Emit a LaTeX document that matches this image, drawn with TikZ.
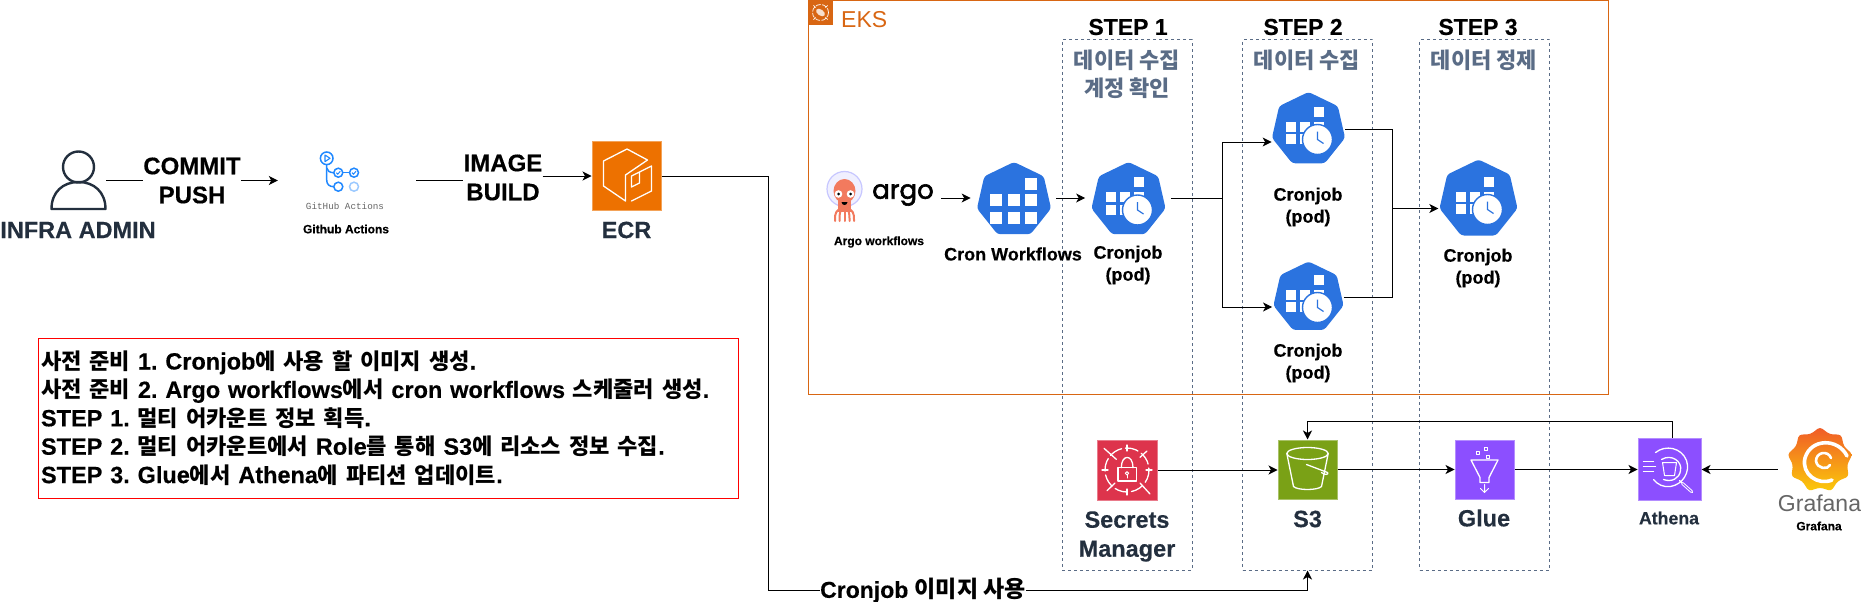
\documentclass[tikz,border=0pt]{standalone}
\usepackage{fontspec}
\usepackage{tikz}
\usetikzlibrary{arrows.meta, backgrounds, calc}
\usetikzlibrary{shapes.geometric, shapes.misc}

\setmainfont{Liberation Sans}[BoldFeatures={FakeBold=0.35}]
\newfontfamily\krfont{Noto Sans CJK KR}
\newfontfamily\krnotefont[Scale=0.94]{Noto Sans CJK KR}
\newfontfamily\argofont[FakeBold=2.2]{Poppins}
\newfontfamily\ghfont{Liberation Mono}
\newcommand{\kr}[1]{{\krfont #1}}
\newcommand{\krn}[1]{{\krnotefont #1}}
\newcommand{\fsize}[2]{\fontsize{#1}{#2}\selectfont}

\definecolor{awsink}{HTML}{232F3E}
\definecolor{eksorange}{HTML}{D86613}
\definecolor{ecrorange}{HTML}{ED7100}
\definecolor{stepblue}{HTML}{5A6C86}
\definecolor{kubeblue}{HTML}{2B73DF}
\definecolor{s3green}{HTML}{7AA116}
\definecolor{gluepurple}{HTML}{8C4FFF}
\definecolor{secretred}{HTML}{DD344C}
\definecolor{ghblue}{HTML}{2088FF}
\definecolor{argored}{HTML}{F27A5E}
\definecolor{gftop}{HTML}{F05A28}
\definecolor{gfbottom}{HTML}{FBCA0A}

\newcommand{\gridsquares}{
  \foreach \gx/\gy in {17.3/-16.3, -17.7/0.3, 0/0.3, 17.3/0.3, -17.7/17.7, 0/17.7, 17.3/17.7}
    \fill[white] (\gx-6,\gy-6) rectangle ++(12,12);
}
\newcommand{\clocksquares}{
  \foreach \gx/\gy in {10/-18, -17.7/-2.7, -3.3/-2.7, 10/-2.7, -17.7/9.7, -3.3/9.7}
    \fill[white] (\gx-5,\gy-5) rectangle ++(10,10);
  \draw[kubeblue, line width=1.4pt, fill=white] (9,10) circle (15);
  \draw[kubeblue, line width=1.2pt] (9,2) -- (9,10) -- (15,14);
}

\tikzset{
  wire/.style={line width=1pt, draw=black},
  flow/.style={wire, -{Stealth[length=9pt, width=9pt, inset=2.5pt]}},
  bigkey/.style={font=\bfseries\fsize{24}{29}, align=center, inner sep=0pt},
  awskey/.style={font=\bfseries\fsize{23.5}{29}, align=center, inner sep=0pt, text=awsink},
  podkey/.style={font=\bfseries\fsize{18}{22}, align=center, inner sep=0pt},
  tinykey/.style={font=\bfseries\fsize{12}{14}, align=center, inner sep=0pt},
  steptitle/.style={font=\bfseries\fsize{23}{27}, inner sep=0pt},
  stepnote/.style={font=\bfseries\fsize{22}{28}, align=center, inner sep=0pt, text=stepblue},
  stepbox/.style={draw=stepblue, line width=1pt, dash pattern=on 3pt off 3pt, minimum width=130pt, minimum height=530pt, inner sep=0pt},
  tile/.style={fill=#1, draw=#1!65!white, line width=1pt, inner sep=0pt},
  glyph/.style={draw=white, line width=1.3pt, line join=round, line cap=round},
  hole/.style={minimum width=#1, inner sep=0pt},
  hept/.style={regular polygon, regular polygon sides=7, inner sep=0pt, minimum size=#1pt, fill=kubeblue, rounded corners=3pt},
  gridhept/.style={hept=#1, path picture={\begin{scope}[shift={(path picture bounding box.center)}, scale=#1/76, sharp corners]\gridsquares\end{scope}}},
  cronhept/.style={hept=#1, path picture={\begin{scope}[shift={(path picture bounding box.center)}, scale=#1/76, sharp corners]\clocksquares\end{scope}}}
}

\begin{document}
\begin{tikzpicture}[x=1pt, y=-1pt]
\useasboundingbox (0,0) rectangle (1861,602);
%%%%%%%%%%%%%%%%%%%
% Groups

\node (eks) [draw=eksorange, line width=1pt, minimum width=800pt, minimum height=394pt, inner sep=0pt] at (1208.5,197.5) {};
\node (ekstag) [fill=eksorange, minimum size=25pt, inner sep=0pt] at (820.5,12.5) {};
\begin{scope}[shift={(ekstag.center)}]
\draw [white, line width=0.7pt, dash pattern=on 5pt off 1.5pt] (0,0) circle (8);
\fill [white, opacity=0.8, rotate=-35] (0,0) ellipse (5 and 3);
\foreach \ta in {45,135,225,315}
  \draw [white, line width=0.7pt, rotate=\ta] (7,0) -- (10,0);
\end{scope}
\node (ekstxt) [anchor=west, inner sep=0pt, text=eksorange, font=\fsize{23}{28}] at (841,20) {EKS};

\node (stepone) [stepbox] at (1127,305) {};
\node (steptwo) [stepbox] at (1307.5,305) {};
\node (stepthree) [stepbox] at (1484.75,305) {};

\node (stepa) [steptitle] at (1128,27) {STEP 1};
\node (stepb) [steptitle] at (1303,27) {STEP 2};
\node (stepc) [steptitle] at (1478,27) {STEP 3};
\node (notea) [stepnote] at (1127,74) {\kr{데이터 수집}\\\kr{계정 확인}};
\node (noteb) [stepnote] at (1307,60) {\kr{데이터 수집}};
\node (notec) [stepnote] at (1484,60) {\kr{데이터 정제}};

%%%%%%%%%%%%%%%%%%%
% Left side, build

\node (admin) [hole=55pt, minimum height=60pt] at (78.5,180.5) {};
\draw [awsink, line width=2.4pt] (78.5,167) circle (15.5);
\draw [awsink, line width=2.4pt, line join=round] (51.5,209) .. controls (51.5,192) and (63,182) .. (78.5,182) .. controls (94,182) and (105.5,192) .. (105.5,209) -- cycle;
\node (adminkey) [awskey] at (78,230) {INFRA ADMIN};

\node (commit) [bigkey] at (192,180.5) {COMMIT\\PUSH};

\node (ghact) [hole=138pt, minimum height=60pt] at (347,180.5) {};
\begin{scope}[ghblue, line width=1.5pt]
\draw (326.7,158.3) circle (6.3);
\draw [line width=1.1pt, line join=round] (325,155) -- (330,158.3) -- (325,161.6) -- cycle;
\draw (326.7,164.6) -- (326.7,180) .. controls (326.7,184) and (329,186.7) .. (333.8,186.7);
\draw (326.7,168) .. controls (327,171) and (330,172.7) .. (333.8,172.7);
\draw (338.3,172.7) circle (4.5);
\draw (354,172.7) circle (4.5);
\draw (338.3,186.7) circle (4.5);
\draw [ghblue!45!white] (354,186.7) circle (4.5);
\draw (342.8,172.7) -- (349.5,172.7);
\draw [line width=1pt] (336.3,172.7) -- (337.8,174.2) -- (340.3,171.2);
\draw [line width=1pt] (352,172.7) -- (353.5,174.2) -- (356,171.2);
\end{scope}
\node (ghlogo) [inner sep=0pt, text=black!60, font=\ghfont\fsize{9.3}{11}] at (345,206) {GitHub Actions};
\node (ghkey) [tinykey] at (346,229) {Github Actions};

\node (build) [bigkey] at (503,177.5) {IMAGE\\BUILD};

\node (ecr) [tile=ecrorange, minimum size=69pt] at (626.5,176) {};
\begin{scope}[shift={(ecr.center)}]
\draw [glyph] (0.5,-27) -- (21,-16) -- (-1,-1) -- (-1,25) -- (-23,10) -- (-23,-15) -- cycle;
\draw [glyph] (5,25) -- (25,15) -- (25,-10) -- (5,0) -- (5,11) -- (13,7) -- (13,-4);
\end{scope}
\node (ecrkey) [awskey] at (626.5,230) {ECR};

%%%%%%%%%%%%%%%%%%%
% The note

\node (note) [draw=red, line width=1pt, minimum width=700pt, minimum height=160pt, text width=695pt, inner sep=0pt, align=left, font=\bfseries\fsize{23.5}{28.4}] at (388.5,418) {\frenchspacing
\krn{사전 준비} 1. Cronjob\krn{에 사용 할 이미지 생성}.\\
\krn{사전 준비} 2. Argo workflows\krn{에서} cron workflows \krn{스케줄러 생성}.\\
STEP 1. \krn{멀티 어카운트 정보 획득}.\\
STEP 2. \krn{멀티 어카운트에서} Role\krn{를 통해} S3\krn{에 리소스 정보 수집}.\\
STEP 3. Glue\krn{에서} Athena\krn{에 파티션 업데이트}.};

%%%%%%%%%%%%%%%%%%%
% Argo and the pods

\node (argo) [hole=118pt, minimum height=50pt] at (882,198) {};
\fill [blue!6!white] (844.5,189) circle (17.5);
\draw [blue!22!white, line width=1.2pt] (844.5,189) circle (17.5);
\fill [argored] (844.5,191) ellipse (11 and 12);
\fill [argored] (838,198) rectangle (851,212);
\foreach \tx in {835,839.5,844.5,849.5,854}
  \draw [argored, line width=2pt, line cap=round] (844.5,205) .. controls (\tx,212) .. (\tx,221);
\fill [white] (838.5,194) circle (3.8);
\fill [white] (850.5,194) circle (3.8);
\fill [black] (838.5,194) circle (1.5);
\fill [black] (850.5,194) circle (1.5);
\fill [black] (841.5,202) -- (847.5,202) .. controls (847,206) and (842,206) .. (841.5,202);
\node (argotxt) [inner sep=0pt, font=\argofont\fsize{26}{30}] at (903,195) {argo};
\node (argokey) [tinykey] at (879,242) {Argo workflows};

\node (cwf) [gridhept=76] at (1014,200) {};
\node (cwfkey) [podkey] at (1013,254) {Cron Workflows};

\node (cja) [cronhept=76] at (1128.5,200) {};
\node (cjakey) [podkey] at (1128,265) {Cronjob\\(pod)};

\node (cjb) [cronhept=75] at (1308.5,129.5) {};
\node (cjbkey) [podkey] at (1308,207) {Cronjob\\(pod)};

\node (cjc) [cronhept=72] at (1308.5,297.5) {};
\node (cjckey) [podkey] at (1308,363) {Cronjob\\(pod)};

\node (cjd) [cronhept=80] at (1478.5,199.5) {};
\node (cjdkey) [podkey] at (1478,268) {Cronjob\\(pod)};

%%%%%%%%%%%%%%%%%%%
% Services

\node (sm) [tile=secretred, minimum size=60pt] at (1127,470) {};
\begin{scope}[shift={(sm.center)}]
\draw [glyph, dash pattern=on 13pt off 4pt] (0,0) circle (22);
\draw [glyph] (-23,-21.7) -- (-10.7,-10.7);
\draw [glyph] (20,-19) -- (13,-12.7);
\draw [glyph] (-20,20.7) -- (-12,13);
\draw [glyph] (23,24) -- (13,13);
\foreach \ta in {0,90,180,270}
  \draw [glyph, rotate=\ta] (19,0) -- (25,0);
\draw [glyph] (-9,-2.3) rectangle (9.3,11);
\draw [glyph] (-5.7,-2.3) .. controls (-5.7,-16) and (6,-16) .. (6,-2.3);
\draw [glyph, line width=1pt] (0,3.3) circle (1.7);
\draw [glyph, line width=1pt] (0,5) -- (0,8);
\end{scope}
\node (smkey) [awskey] at (1127,536.5) {Secrets\\Manager};

\node (sss) [tile=s3green, minimum size=59pt] at (1307.5,469.5) {};
\begin{scope}[shift={(sss.center)}]
\draw [glyph] (0,-16) ellipse (20.7 and 6);
\draw [glyph] (-20.7,-16) -- (-14,17) .. controls (-10,21) and (10,21) .. (14,17) -- (20.7,-16);
\draw [glyph] (-1,-5) -- (20,3) .. controls (22,5) and (17,6) .. (14,3);
\end{scope}
\node (ssskey) [awskey] at (1307.5,519) {S3};

\node (glue) [tile=gluepurple, minimum size=59pt] at (1484.5,469.5) {};
\begin{scope}[shift={(glue.center)}]
\draw [glyph] (-13.5,-9.5) -- (13.5,-9.5) -- (4.5,8) -- (4.5,13) -- (-4.5,13) -- (-4.5,8) -- cycle;
\draw [glyph, line width=1pt] (-8,-18.5) rectangle (-5,-15.5);
\draw [glyph, line width=1pt] (2,-14) rectangle (5,-11);
\draw [glyph, line width=1pt] (0,-22.5) rectangle (3,-19.5);
\draw [glyph, line width=1pt] (0,15) -- (0,23) (-4,19) -- (0,23) -- (4,19);
\end{scope}
\node (gluekey) [awskey] at (1484,518) {Glue};

\node (athena) [tile=gluepurple, minimum width=63pt, minimum height=62pt] at (1669.5,469.5) {};
\begin{scope}[shift={(athena.center)}]
\draw [glyph] (-14,-17) .. controls (-4,-25) and (12,-22) .. (17,-9) .. controls (21,3) and (13,15) .. (1,17) .. controls (-6,18) and (-12,15) .. (-16,10);
\draw [glyph] (-8,-10) .. controls (2,-16) and (13,-8) .. (11,1) .. controls (10,9) and (2,13) .. (-6,10);
\draw [glyph, line width=1pt] (-7,-7) -- (-5,6) -- (5,6) -- (7,-7) -- cycle;
\draw [glyph] (-26,-8) -- (-16,-8) (-26,-3) -- (-14,-3) (-26,2) -- (-16,2);
\draw [glyph] (10,11) -- (23,23);
\draw [glyph, line width=3pt] (13,14) -- (22,22);
\draw [gluepurple, line width=1pt] (13,14) -- (22,22);
\end{scope}
\node (athenakey) [font=\bfseries\fsize{17.7}{22}, text=awsink, inner sep=0pt] at (1669,518) {Athena};

\node (gflogo) [star, star points=9, star point ratio=1.2, inner sep=0pt, minimum size=66pt, rounded corners=3pt, top color=gftop, bottom color=gfbottom] at (1820,460) {};
\begin{scope}[shift={(gflogo.center)}]
\draw [white, line width=3.6pt, line cap=round] (27,-4) .. controls (18,-22) and (-9,-22) .. (-15,-2) .. controls (-19,14) and (-2,26) .. (12,20);
\draw [white, line width=2.6pt, line cap=round] (11,-2) .. controls (8,-10) and (-4,-8) .. (-4,1) .. controls (-3,9) and (8,10) .. (10,5);
\end{scope}
\node (gftxt) [inner sep=0pt, text=black!60, font=\fsize{23}{28}] at (1819.5,503) {Grafana};
\node (gfkey) [tinykey] at (1819,526) {Grafana};

%%%%%%%%%%%%%%%%%%%
% Connectors

\draw [wire] (admin.east) -- (commit.west);
\draw [flow] (commit.east) -- (ghact.west);
\draw [wire] (ghact.east) -- (build.west |- ghact.east);
\draw [flow] (build.east |- ecr.west) -- (ecr.west);

\coordinate (turn) at (768.5,176);
\draw [flow, shorten >=8pt] (argo.east) -- (cwf.west |- argo.east);
\draw [flow, shorten <=7pt, shorten >=8pt] (cwf.east |- argo.east) -- (cja.west |- argo.east);

\coordinate (fork) at (1222,198);
\draw [wire, shorten <=7pt] (cja.east |- fork) -- (fork);
\draw [flow, shorten >=2pt] (fork) |- ($(cjb.west)+(0,12.5)$);
\draw [flow, shorten >=3pt] (fork) |- ($(cjc.west)+(0,9.5)$);

\coordinate (merge) at (1392.5,208.5);
\draw [wire, shorten <=2pt] (cjb.east) -| (merge);
\draw [wire, shorten <=2pt] (cjc.east) -| (merge);
\draw [flow, shorten >=3pt] (merge) -- (merge -| cjd.west);

\draw [flow] (sm.east) -- (sss.west |- sm.east);
\draw [flow] (sss.east) -- (glue.west);
\draw [flow] (glue.east) -- (athena.west);
\draw [flow] (gftxt.west |- athena.east) -- (athena.east);
\coordinate (loop) at (1672.5,421.5);
\draw [flow] (athena.north -| loop) -- (loop) -| (sss.north);

\node (usage) [font=\bfseries\fsize{23}{28}, inner sep=0pt] at (923,590.5) {Cronjob \kr{이미지 사용}};
\draw [wire] (ecr.east) -- (turn) |- (usage.west);
\draw [flow] (usage.east) -| (steptwo.south);

\end{tikzpicture}
\end{document}
